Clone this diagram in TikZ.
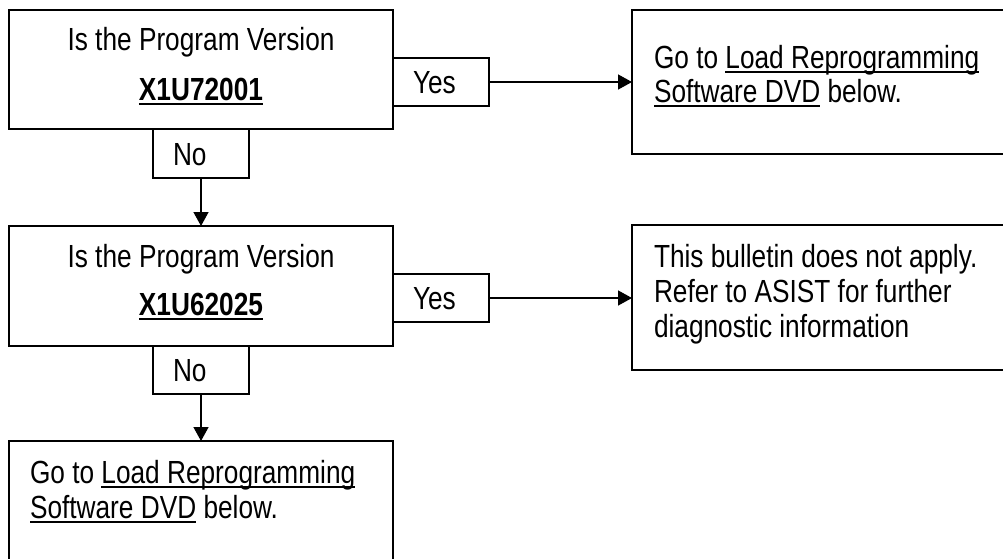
\documentclass[tikz,border=0pt]{standalone}
\usepackage{fontspec}
\setmainfont{Liberation Sans}[FakeStretch=0.82]
\usetikzlibrary{arrows.meta}
\newcommand\myul[1]{\setbox0\hbox{#1}\rlap{\rule[-4.5pt]{\wd0}{2pt}}\box0\relax}
\tikzset{
  boxnode/.style={draw=black, line width=1.8pt, inner sep=0pt, outer sep=0pt, anchor=north west},
  txt/.style={inner sep=0pt, outer sep=0pt, font=\fontsize{32}{35}\selectfont, text=black},
  conn/.style={draw=black, line width=1.4pt, -{Triangle[length=14pt,width=15pt]}}
}
\begin{document}
\begin{tikzpicture}[x=1pt,y=-1pt]
\useasboundingbox (0,0) rectangle (1003,558);
\clip (0,0) rectangle (1003,558);
\fill[white] (0,0) rectangle (1003,558);
% boxes
\node[boxnode, minimum width=384pt, minimum height=119pt] (q1) at (9,10) {};
\node[boxnode, minimum width=96pt, minimum height=48pt] (yes1) at (393,58) {};
\node[boxnode, minimum width=96pt, minimum height=49pt] (no1) at (153,129) {};
\node[boxnode, minimum width=380pt, minimum height=144pt] (r1) at (632,10) {};
\node[boxnode, minimum width=384pt, minimum height=120pt] (q2) at (9,226) {};
\node[boxnode, minimum width=96pt, minimum height=48pt] (yes2) at (393,274) {};
\node[boxnode, minimum width=96pt, minimum height=48pt] (no2) at (153,346) {};
\node[boxnode, minimum width=380pt, minimum height=145pt] (r2) at (632,225) {};
\node[boxnode, minimum width=384pt, minimum height=130pt] (e3) at (9,441) {};
% texts
\node[txt, anchor=base] (q1a) at (201,50) {Is the Program Version};
\node[txt, anchor=base] (q1b) at (201,100) {\myul{\textbf{X1U72001}}};
\node[txt, anchor=base west] (yes1t) at (413,93) {Yes};
\node[txt, anchor=base west] (no1t) at (173,165) {No};
\node[txt, anchor=base west] (r1a) at (654,68) {Go to \myul{Load Reprogramming}};
\node[txt, anchor=base west] (r1b) at (654,102) {\myul{Software DVD} below.};
\node[txt, anchor=base] (q2a) at (201,267) {Is the Program Version};
\node[txt, anchor=base] (q2b) at (201,315) {\myul{\textbf{X1U62025}}};
\node[txt, anchor=base west] (yes2t) at (413,309) {Yes};
\node[txt, anchor=base west] (no2t) at (173,381) {No};
\node[txt, anchor=base west] (r2a) at (654,267) {This bulletin does not apply.};
\node[txt, anchor=base west] (r2b) at (654,302) {Refer to ASIST for further};
\node[txt, anchor=base west] (r2c) at (654,337) {diagnostic information};
\node[txt, anchor=base west] (e3a) at (30,483) {Go to \myul{Load Reprogramming}};
\node[txt, anchor=base west] (e3b) at (30,518) {\myul{Software DVD} below.};
% connectors
\draw[conn] (yes1.east) -- (yes1.east -| r1.west);
\draw[conn] (yes2.east) -- (yes2.east -| r2.west);
\draw[conn] (no1.south) -- (q2.north);
\draw[conn] (no2.south) -- (e3.north);
\end{tikzpicture}
\end{document}
